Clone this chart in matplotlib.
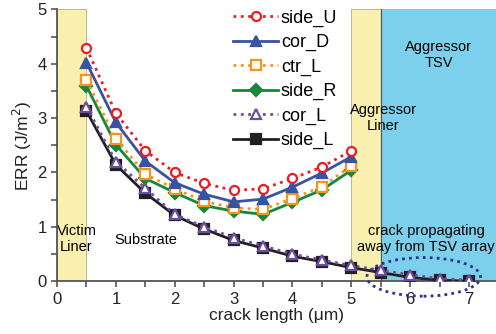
import matplotlib
matplotlib.use("Agg")
import matplotlib.pyplot as plt
from matplotlib.patches import Ellipse
from matplotlib.ticker import MultipleLocator

plt.rcParams['font.family'] = ['Liberation Sans', 'DejaVu Sans']

# crack length positions (um)
x_short = [0.5, 1.0, 1.5, 2.0, 2.5, 3.0, 3.5, 4.0, 4.5, 5.0]
x_long = [0.5, 1.0, 1.5, 2.0, 2.5, 3.0, 3.5, 4.0, 4.5, 5.0, 5.5, 6.0, 6.5, 7.0]

# ERR values (J/m^2)
side_U = [4.29, 3.09, 2.40, 2.00, 1.80, 1.67, 1.70, 1.89, 2.10, 2.40]
cor_D = [4.02, 2.92, 2.21, 1.81, 1.60, 1.46, 1.51, 1.73, 1.99, 2.29]
ctr_L = [3.70, 2.62, 1.97, 1.70, 1.47, 1.35, 1.32, 1.52, 1.74, 2.12]
side_R = [3.59, 2.51, 1.89, 1.63, 1.39, 1.29, 1.23, 1.45, 1.68, 2.04]
cor_L = [3.21, 2.20, 1.71, 1.23, 1.00, 0.80, 0.65, 0.50, 0.39, 0.29, 0.20, 0.12, 0.05, 0.02]
side_L = [3.13, 2.14, 1.62, 1.21, 0.96, 0.75, 0.61, 0.46, 0.36, 0.25, 0.16, 0.07, 0.02, 0.00]

series = [
    ("side_U", x_short, side_U, "#ed1c24", "o", ":", "none"),
    ("cor_D", x_short, cor_D, "#3953a4", "^", "-", "#3953a4"),
    ("ctr_L", x_short, ctr_L, "#f7941d", "s", ":", "none"),
    ("side_R", x_short, side_R, "#13883c", "D", "-", "#13883c"),
    ("cor_L", x_long, cor_L, "#6a4ea1", "^", ":", "none"),
    ("side_L", x_long, side_L, "#231f20", "s", "-", "#231f20"),
]

fig = plt.figure(figsize=(4.96, 3.34), dpi=100)
ax = fig.add_axes([0.115, 0.158, 0.884, 0.814])

# material regions
ax.axvspan(0, 0.5, color="#f9efaf", ec="#b8ad7a", lw=0.6, zorder=0)
ax.axvspan(5.0, 5.5, color="#f9efaf", ec="#b8ad7a", lw=0.6, zorder=0)
ax.axvspan(5.5, 7.45, color="#7dd0ec", zorder=0)
ax.axvline(5.5, color="#555555", lw=0.8, zorder=0.5)

handles = []
n = len(series)
for i, (name, xs, ys, col, mk, ls, fc) in enumerate(series):
    h, = ax.plot(xs, ys, color=col, marker=mk, linestyle=ls, lw=2,
                 markersize=6.5, markerfacecolor=fc if fc != "none" else "white",
                 markeredgecolor=col, markeredgewidth=1.6, label=name,
                 zorder=3 + (n - i))
    handles.append(h)

ax.add_patch(Ellipse((6.23, 0.08), 1.93, 0.71, fill=False, ec="#2e3192",
                     lw=2, ls=(0, (1, 1.5)), clip_on=False, zorder=10))

ax.text(0.33, 0.78, "Victim\nLiner", ha="center", va="center", fontsize=10.5, zorder=2)
ax.text(1.5, 0.75, "Substrate", ha="center", va="center", fontsize=10.5, zorder=2)
ax.text(5.54, 3.0, "Aggressor\nLiner", ha="center", va="center", fontsize=10.5, zorder=2)
ax.text(6.48, 4.16, "Aggressor\nTSV", ha="center", va="center", fontsize=10.5, zorder=2)
ax.text(6.27, 0.78, "crack propagating\naway from TSV array", ha="center", va="center",
        fontsize=10.5, zorder=2)

ax.set_xlim(0, 7.45)
ax.set_ylim(0, 5)
ax.xaxis.set_major_locator(MultipleLocator(1))
ax.xaxis.set_minor_locator(MultipleLocator(0.5))
ax.yaxis.set_major_locator(MultipleLocator(1))
ax.yaxis.set_minor_locator(MultipleLocator(0.5))
ax.set_xticks([0, 1, 2, 3, 4, 5, 6, 7])

for s in ["top", "right"]:
    ax.spines[s].set_visible(False)
for s in ["left", "bottom"]:
    ax.spines[s].set_color("#555555")
    ax.spines[s].set_linewidth(1.3)
ax.tick_params(which="both", direction="out", color="#555555", width=1.2,
               labelsize=12, labelcolor="#222222", length=4)

ax.set_xlabel("crack length (μm)", fontsize=12.5, labelpad=1, color="#222222")
ax.set_ylabel("ERR (J/m$^2$)", fontsize=12.5, labelpad=2, color="#222222")

ax.legend(handles=handles, loc="upper left", bbox_to_anchor=(0.385, 1.025),
          frameon=False, fontsize=13, handlelength=2.5, labelspacing=0.4,
          handletextpad=0.15, borderaxespad=0)

fig.savefig("out.png", dpi=100)
